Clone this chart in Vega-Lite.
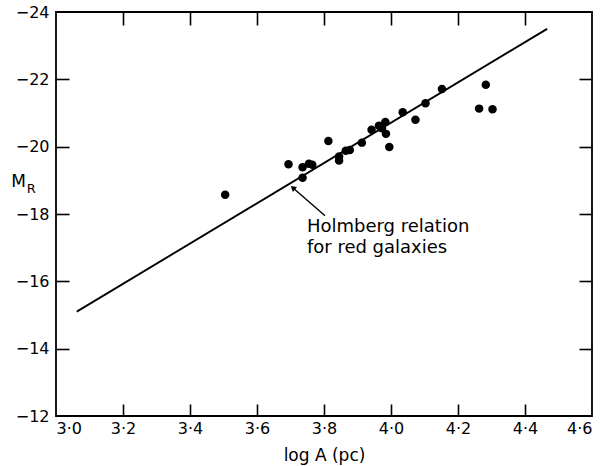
{
  "$schema": "https://vega.github.io/schema/vega-lite/v6.json",
  "width": 536,
  "height": 404,
  "autosize": "none",
  "padding": {"left": 56, "top": 12, "right": 8, "bottom": 50},
  "background": "white",
  "config": {
    "view": {"stroke": "black", "strokeWidth": 1.8},
    "font": "DejaVu Sans",
    "axis": {"domain": false, "grid": false, "tickColor": "black", "tickWidth": 1.6, "labelColor": "black", "titleColor": "black", "labelFont": "DejaVu Sans", "titleFont": "DejaVu Sans", "labelFontSize": 16, "titleFontSize": 17, "titleFontWeight": "normal"}
  },
  "datasets": {
    "points": [
      {"logA": 3.505, "MR": -18.57},
      {"logA": 3.694, "MR": -19.48},
      {"logA": 3.736, "MR": -19.39},
      {"logA": 3.755, "MR": -19.49},
      {"logA": 3.765, "MR": -19.46},
      {"logA": 3.736, "MR": -19.08},
      {"logA": 3.813, "MR": -20.17},
      {"logA": 3.845, "MR": -19.71},
      {"logA": 3.845, "MR": -19.59},
      {"logA": 3.865, "MR": -19.88},
      {"logA": 3.877, "MR": -19.9},
      {"logA": 3.913, "MR": -20.12},
      {"logA": 3.942, "MR": -20.5},
      {"logA": 3.964, "MR": -20.62},
      {"logA": 3.983, "MR": -20.73},
      {"logA": 3.973, "MR": -20.55},
      {"logA": 3.985, "MR": -20.38},
      {"logA": 3.995, "MR": -19.99},
      {"logA": 4.035, "MR": -21.02},
      {"logA": 4.073, "MR": -20.8},
      {"logA": 4.103, "MR": -21.29},
      {"logA": 4.152, "MR": -21.71},
      {"logA": 4.283, "MR": -21.84},
      {"logA": 4.263, "MR": -21.13},
      {"logA": 4.303, "MR": -21.11}
    ],
    "relation": [{"x": 3.062, "y": -15.1, "x2": 4.466, "y2": -23.5}],
    "arrow": [{"x": 3.803, "y": -17.95, "x2": 3.707, "y2": -18.78}],
    "arrowhead": [{"x": 3.707, "y": -18.78}],
    "note": [
      {"x": 3.749, "y": -17.62, "text": "Holmberg relation"},
      {"x": 3.749, "y": -16.99, "text": "for red galaxies"}
    ],
    "ylabM": [{"x": 2.888, "y": -18.96, "text": "M"}],
    "ylabR": [{"x": 2.926, "y": -18.75, "text": "R"}]
  },
  "resolve": {"axis": {"x": "independent", "y": "independent"}},
  "layer": [
    {
      "data": {"name": "relation"},
      "mark": {"type": "rule", "color": "black", "strokeWidth": 1.9},
      "encoding": {
        "x": {"field": "x", "type": "quantitative", "scale": {"domain": [3.0, 4.6], "nice": false, "zero": false},
              "axis": {"orient": "top", "labels": false, "title": null, "values": [3.2, 3.4, 3.6, 3.8, 4.0, 4.2, 4.4], "tickSize": 13, "offset": -13}},
        "y": {"field": "y", "type": "quantitative", "scale": {"domain": [-24, -12], "reverse": true, "nice": false, "zero": false},
              "axis": {"orient": "right", "labels": false, "title": null, "values": [-22, -20, -18, -16, -14], "tickSize": 13, "offset": -13}},
        "x2": {"field": "x2"},
        "y2": {"field": "y2"}
      }
    },
    {
      "data": {"name": "points"},
      "mark": {"type": "circle", "color": "black", "opacity": 1, "size": 72},
      "encoding": {
        "x": {"field": "logA", "type": "quantitative", "scale": {"domain": [3.0, 4.6], "nice": false, "zero": false},
              "axis": {"orient": "bottom", "title": "log A (pc)", "values": [3.0, 3.2, 3.4, 3.6, 3.8, 4.0, 4.2, 4.4, 4.6], "ticks": false, "tickSize": 0, "labelPadding": 4, "labelExpr": "replace(format(datum.value, '.1f'), '.', '·')", "titlePadding": 11}},
        "y": {"field": "MR", "type": "quantitative", "scale": {"domain": [-24, -12], "reverse": true, "nice": false, "zero": false},
              "axis": {"orient": "left", "title": null, "values": [-24, -22, -20, -18, -16, -14, -12], "ticks": false, "tickSize": 0, "labelPadding": 7}}
      }
    },
    {
      "data": {"name": "arrow"},
      "mark": {"type": "rule", "color": "black", "strokeWidth": 1.4},
      "encoding": {
        "x": {"field": "x", "type": "quantitative",
              "axis": {"orient": "bottom", "labels": false, "title": null, "values": [3.2, 3.4, 3.6, 3.8, 4.0, 4.2, 4.4], "tickSize": 12, "offset": -12}},
        "y": {"field": "y", "type": "quantitative",
              "axis": {"orient": "left", "labels": false, "title": null, "values": [-22, -20, -18, -16, -14], "tickSize": 13, "offset": -13}},
        "x2": {"field": "x2"},
        "y2": {"field": "y2"}
      }
    },
    {
      "data": {"name": "arrowhead"},
      "mark": {"type": "point", "shape": "triangle-up", "filled": true, "color": "black", "opacity": 1, "size": 40, "angle": 310},
      "encoding": {
        "x": {"field": "x", "type": "quantitative", "axis": null},
        "y": {"field": "y", "type": "quantitative", "axis": null}
      }
    },
    {
      "data": {"name": "note"},
      "mark": {"type": "text", "align": "left", "baseline": "middle", "fontSize": 18, "color": "black"},
      "encoding": {
        "x": {"field": "x", "type": "quantitative", "axis": null},
        "y": {"field": "y", "type": "quantitative", "axis": null},
        "text": {"field": "text"}
      }
    },
    {
      "data": {"name": "ylabM"},
      "mark": {"type": "text", "align": "center", "baseline": "middle", "fontSize": 17, "color": "black"},
      "encoding": {
        "x": {"field": "x", "type": "quantitative", "axis": null},
        "y": {"field": "y", "type": "quantitative", "axis": null},
        "text": {"field": "text"}
      }
    },
    {
      "data": {"name": "ylabR"},
      "mark": {"type": "text", "align": "center", "baseline": "middle", "fontSize": 13, "color": "black"},
      "encoding": {
        "x": {"field": "x", "type": "quantitative", "axis": null},
        "y": {"field": "y", "type": "quantitative", "axis": null},
        "text": {"field": "text"}
      }
    }
  ]
}
